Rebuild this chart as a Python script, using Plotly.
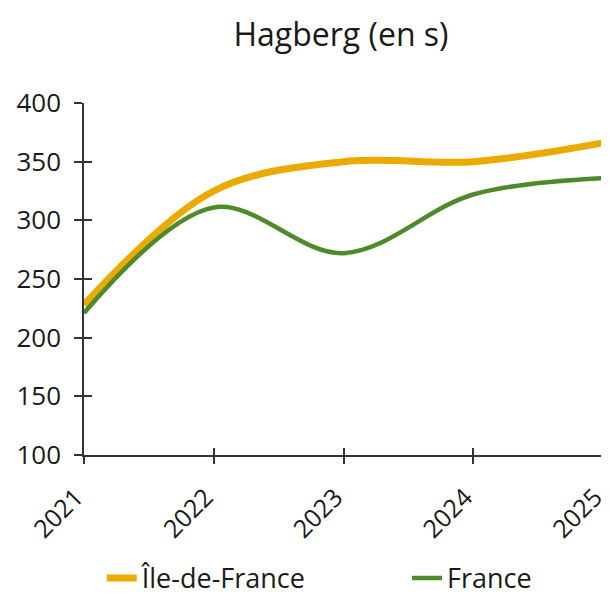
import plotly.graph_objects as go

years = ["2021", "2022", "2023", "2024", "2025"]
idf_values = [228, 325, 350, 350, 366]
france_values = [221, 311, 272, 322, 336]
y_ticks = [100, 150, 200, 250, 300, 350, 400]

FONT = "Open Sans, Lato, sans-serif"
TXT = "#1a1a1a"
x_idx = list(range(len(years)))

fig = go.Figure()
fig.add_trace(go.Scatter(x=x_idx, y=idf_values, name="Île-de-France", mode="lines", legend="legend",
                         line=dict(color="#EAAA00", width=7, shape="spline", smoothing=1.0)))
fig.add_trace(go.Scatter(x=x_idx, y=france_values, name="France", mode="lines", legend="legend2",
                         line=dict(color="#4F8A2A", width=4.5, shape="spline", smoothing=1.0)))

leg_common = dict(orientation="h", xref="container", yref="container", xanchor="left",
                  y=0.03, yanchor="middle", bgcolor="rgba(0,0,0,0)", borderwidth=0,
                  entrywidthmode="pixels",
                  font=dict(family=FONT, size=27, color=TXT))

fig.update_layout(
    width=601, height=588,
    margin=dict(l=76, r=6, t=95, b=141, autoexpand=False),
    paper_bgcolor="white", plot_bgcolor="white",
    title=dict(text="Hagberg (en s)", x=0.554, xanchor="center", y=0.954, yanchor="middle",
               font=dict(family=FONT, size=32, color=TXT)),
    font=dict(family=FONT, color=TXT),
    showlegend=True,
    legend=dict(x=0.156, entrywidth=230, **leg_common),
    legend2=dict(x=0.664, entrywidth=150, **leg_common),
    xaxis=dict(range=[0, 4], tickvals=x_idx, ticktext=years, tickangle=-45, automargin=False,
               ticklabeloverflow="allow", ticklabelshift=-8, ticklabelstandoff=9,
               showgrid=False, zeroline=False, showline=True, linecolor="#333", linewidth=1.5,
               ticks="outside", ticklen=7, tickcolor="#333", tickwidth=1.5,
               tickfont=dict(family=FONT, size=25, color=TXT)),
    yaxis=dict(range=[100, 400], tickvals=y_ticks, showgrid=False, zeroline=False, automargin=False,
               ticklabeloverflow="allow", ticklabelstandoff=8,
               showline=True, linecolor="#333", linewidth=1.5,
               ticks="outside", ticklen=8, tickcolor="#333", tickwidth=1.5,
               tickfont=dict(family=FONT, size=26, color=TXT)),
    xaxis2=dict(range=[0, 4], overlaying="x", tickvals=x_idx, showticklabels=False, automargin=False,
                ticks="inside", ticklen=7, tickcolor="#333", tickwidth=1.5,
                showgrid=False, zeroline=False, showline=False, side="bottom"),
    yaxis2=dict(range=[100, 400], overlaying="y", tickvals=y_ticks, showticklabels=False, automargin=False,
                ticks="inside", ticklen=8, tickcolor="#333", tickwidth=1.5,
                showgrid=False, zeroline=False, showline=False, side="left"),
)
fig.add_trace(go.Scatter(x=[0], y=[100], xaxis="x2", yaxis="y2", mode="markers",
                         marker=dict(opacity=0), showlegend=False, hoverinfo="skip"))

fig.write_html("out.html")
